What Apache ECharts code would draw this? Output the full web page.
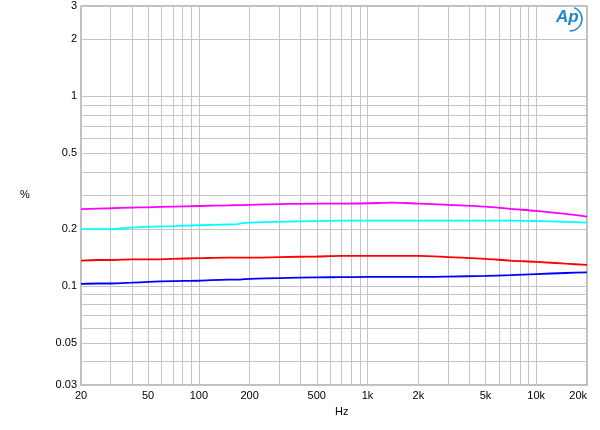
<!DOCTYPE html>
<html>
<head>
<meta charset="utf-8">
<script src="https://cdn.jsdelivr.net/npm/echarts@6/dist/echarts.min.js"></script>
<style>html,body{margin:0;padding:0;background:#fff;}#c{width:600px;height:430px;}</style>
</head>
<body>
<div id="c"></div>
<script>
const freqs = [20, 25, 30, 40, 50, 70, 100, 150, 170, 185, 200, 300, 500, 700, 1000, 1400, 2000, 3000, 5000, 7000, 10000, 15000, 20000];
const magenta = [0.254, 0.256, 0.257, 0.259, 0.260, 0.262, 0.264, 0.266, 0.267, 0.267, 0.268, 0.270, 0.272, 0.272, 0.273, 0.275, 0.272, 0.268, 0.262, 0.255, 0.249, 0.240, 0.232];
const cyan = [0.1995, 0.1995, 0.1995, 0.203, 0.205, 0.207, 0.209, 0.211, 0.212, 0.215, 0.216, 0.218, 0.220, 0.221, 0.221, 0.221, 0.221, 0.221, 0.221, 0.221, 0.220, 0.218, 0.216];
const red = [0.136, 0.137, 0.137, 0.138, 0.138, 0.139, 0.140, 0.141, 0.141, 0.141, 0.141, 0.142, 0.143, 0.144, 0.144, 0.144, 0.144, 0.142, 0.139, 0.136, 0.134, 0.131, 0.129];
const blue = [0.1025, 0.103, 0.103, 0.104, 0.105, 0.106, 0.1065, 0.108, 0.108, 0.1085, 0.109, 0.110, 0.111, 0.1112, 0.1115, 0.1115, 0.1115, 0.112, 0.113, 0.114, 0.1155, 0.117, 0.118];

const xLabelTicks = [20, 50, 100, 200, 500, 1000, 2000, 5000, 10000, 20000];
const xGridTicks = [20, 30, 40, 50, 60, 70, 80, 90, 100, 200, 300, 400, 500, 600, 700, 800, 900, 1000, 2000, 3000, 4000, 5000, 6000, 7000, 8000, 9000, 10000, 20000];
const yLabelTicks = [0.03, 0.05, 0.1, 0.2, 0.5, 1, 2, 3];
const yGridTicks = [0.03, 0.04, 0.05, 0.06, 0.07, 0.08, 0.09, 0.1, 0.2, 0.3, 0.4, 0.5, 0.6, 0.7, 0.8, 0.9, 1, 2, 3];

const seriesDefs = [
  {name: 'magenta', color: '#ff00ff', values: magenta},
  {name: 'cyan', color: '#00ffff', values: cyan},
  {name: 'red', color: '#ff0000', values: red},
  {name: 'blue', color: '#0000ff', values: blue}
];

function fmtHz(v) {
  if (v >= 1000) return (v / 1000) + 'k';
  return String(v);
}

const chart = echarts.init(document.getElementById('c'), null, {renderer: 'canvas'});
const font = 'Liberation Sans, Arial, sans-serif';
chart.setOption({
  animation: false,
  backgroundColor: '#fff',
  grid: {left: 81, right: 13, top: 6, bottom: 45, show: true, borderColor: '#aaa', borderWidth: 1.5},
  xAxis: {
    type: 'log', logBase: 10, min: 20, max: 20000,
    axisLine: {show: false},
    axisTick: {show: false, customValues: xGridTicks},
    splitLine: {show: true, lineStyle: {color: '#c4c4c4', width: 1}},
    axisLabel: {customValues: xLabelTicks, formatter: fmtHz, color: '#000', fontSize: 11, fontFamily: font, margin: 5, alignMaxLabel: 'right'}
  },
  yAxis: {
    type: 'log', logBase: 10, min: 0.03, max: 3,
    axisLine: {show: false},
    axisTick: {show: false, customValues: yGridTicks},
    splitLine: {show: true, lineStyle: {color: '#c4c4c4', width: 1}},
    axisLabel: {customValues: yLabelTicks, formatter: v => String(v), color: '#000', fontSize: 11, fontFamily: font, margin: 4}
  },
  graphic: [
    {type: 'text', left: 20, top: 189, style: {text: '%', fontSize: 11, fontFamily: font, fill: '#000'}},
    {type: 'text', left: 335, top: 406, style: {text: 'Hz', fontSize: 11, fontFamily: font, fill: '#000'}},
    {type: 'text', left: 556, top: 9, style: {text: 'Ap', fontSize: 17, fontStyle: 'italic', fontWeight: 'bold', fontFamily: font, fill: '#1e88c8'}},
    {type: 'arc', shape: {cx: 570, cy: 19, r: 12, startAngle: -1.2, endAngle: 1.6}, style: {stroke: '#1e88c8', lineWidth: 1.5, fill: null}}
  ],
  series: seriesDefs.map(s => ({
    name: s.name, type: 'line', showSymbol: false, smooth: 0.3,
    lineStyle: {color: s.color, width: 1.8},
    data: freqs.map((f, i) => [f, s.values[i]])
  }))
});
</script>
</body>
</html>
